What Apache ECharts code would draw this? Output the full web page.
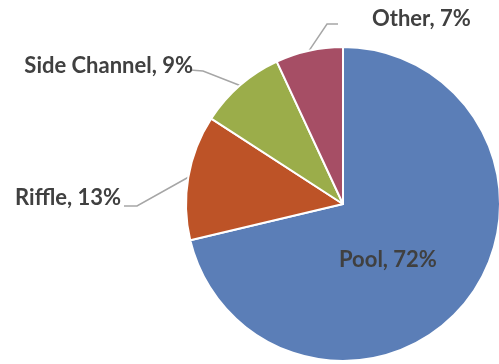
<!DOCTYPE html>
<html>
<head>
<meta charset="utf-8">
<script src="https://cdn.jsdelivr.net/npm/echarts@6/dist/echarts.min.js"></script>
<style>
  html, body { margin: 0; padding: 0; background: #fff; }
  #chart { width: 499px; height: 364px; }
</style>
</head>
<body>
<div id="chart"></div>
<script>
// Habitat share (%) by type
const categories = ['Pool', 'Riffle', 'Side Channel', 'Other'];
const shares = [72, 13, 9, 7];
const colors = ['#5b7eb7', '#bd5327', '#9bad4a', '#a64e65'];

// Where each outside label sits, and the elbow/end of its leader line
const labelPlacement = {
  'Riffle':       { x: 121, y: 198, align: 'right', elbow: [137, 206], end: [124, 206] },
  'Side Channel': { x: 193, y: 66,  align: 'right', elbow: [203, 71],  end: [190, 70] },
  'Other':        { x: 372, y: 19,  align: 'left',  elbow: [327, 24],  end: [338, 24] }
};

const chart = echarts.init(document.getElementById('chart'), null, { renderer: 'canvas' });

chart.setOption({
  animation: false,
  series: [{
    type: 'pie',
    center: [343, 204],
    radius: 157,
    startAngle: 90,
    clockwise: true,
    avoidLabelOverlap: false,
    itemStyle: { borderColor: '#ffffff', borderWidth: 2 },
    label: {
      show: true,
      position: 'outside',
      formatter: '{b}, {c}%',
      fontFamily: 'Lato',
      fontWeight: 'bold',
      fontSize: 22,
      color: '#404040'
    },
    labelLine: {
      show: true,
      length: 20,
      length2: 10,
      lineStyle: { color: '#a6a6a6', width: 1.5 }
    },
    labelLayout: function (params) {
      const name = categories[params.dataIndex];
      const p = labelPlacement[name];
      if (!p) {
        return { dx: -19, dy: 5 };
      }
      const start = params.labelLinePoints ? params.labelLinePoints[0] : p.elbow;
      return {
        x: p.x,
        y: p.y,
        align: p.align,
        verticalAlign: 'middle',
        labelLinePoints: [start, p.elbow, p.end]
      };
    },
    data: categories.map((name, i) => {
      const item = { name: name, value: shares[i], itemStyle: { color: colors[i] } };
      if (name === 'Pool') {
        item.label = { position: 'inside' };
        item.labelLine = { show: false };
      }
      return item;
    })
  }]
});
</script>
</body>
</html>
